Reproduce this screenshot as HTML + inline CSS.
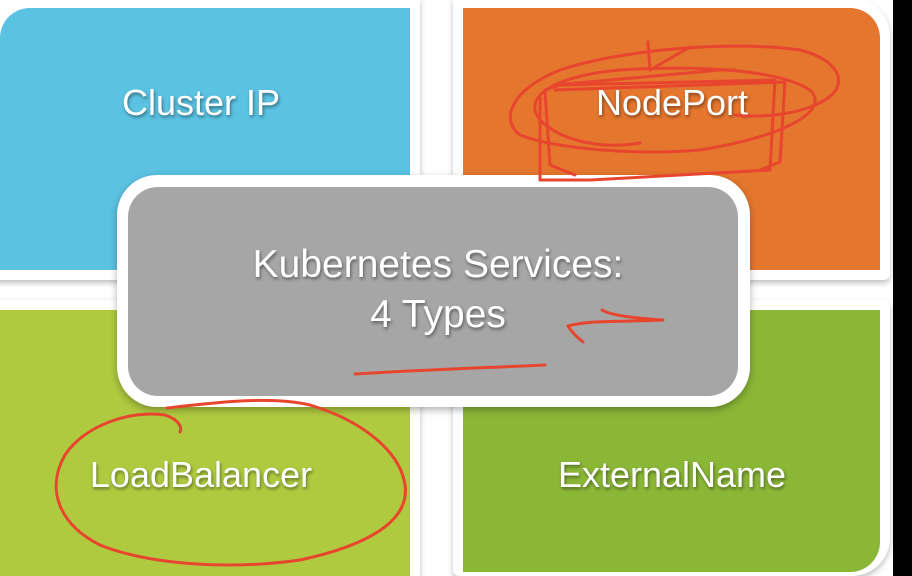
<!DOCTYPE html>
<html style="margin:0;width:912px;height:576px;overflow:hidden"><head><meta charset="utf-8"><style>
body{margin:0;width:912px;height:576px;overflow:hidden;background:#fff;position:relative;font-family:"Liberation Sans",sans-serif}
.t{position:absolute;box-sizing:border-box;box-shadow:0 3px 6px rgba(0,0,0,.25)}
.lbl{position:absolute;color:#fff;font-size:36px;text-shadow:1px 2px 3px rgba(0,0,0,.45);white-space:nowrap;transform:translate(-50%,-50%)}
.c{font-size:39px}
</style></head><body>
<div class="t" style="left:-10px;top:-2px;width:430px;height:282px;background:#fff;border-radius:0 0 4px 0"></div>
<div style="position:absolute;left:0;top:8px;width:410px;height:262px;background:#5bc2e2;border-radius:30px 0 0 0"></div>
<div class="t" style="left:453px;top:-2px;width:437px;height:282px;background:#fff;border-radius:0 38px 6px 6px"></div>
<div style="position:absolute;left:463px;top:8px;width:417px;height:262px;background:#e5762e;border-radius:0 30px 0 0"></div>
<div class="t" style="left:-10px;top:300px;width:430px;height:276px;background:#fff"></div>
<div style="position:absolute;left:0;top:310px;width:410px;height:266px;background:#b0ca40"></div>
<div class="t" style="left:453px;top:300px;width:437px;height:276px;background:#fff;border-radius:6px 6px 38px 6px"></div>
<div style="position:absolute;left:463px;top:310px;width:417px;height:262px;background:#8bb737;border-radius:0 0 30px 0"></div>
<div style="position:absolute;left:893px;top:0;width:19px;height:576px;background:#000"></div>
<div class="t" style="left:117px;top:175px;width:633px;height:232px;background:#fff;border-radius:40px;box-shadow:0 3px 8px rgba(0,0,0,.3)"></div>
<div style="position:absolute;left:128px;top:187px;width:610px;height:209px;background:#a6a6a6;border-radius:30px"></div>
<div class="lbl" style="left:201px;top:103px">Cluster IP</div>
<div class="lbl" style="left:672px;top:103px">NodePort</div>
<div class="lbl" style="left:201px;top:475px">LoadBalancer</div>
<div class="lbl" style="left:672px;top:475px">ExternalName</div>
<div class="lbl c" style="left:438px;top:265px">Kubernetes Services:</div>
<div class="lbl c" style="left:438px;top:315px">4 Types</div>
<svg width="912" height="576" style="position:absolute;left:0;top:0" fill="none" stroke="#e8452f" stroke-width="3" stroke-linecap="round" stroke-linejoin="round">
<path d="M640 143 C600 150 560 140 540 120 C520 95 560 75 620 70 C700 65 780 70 810 90 C830 110 790 135 700 150 C640 155 560 150 520 135 C500 120 510 90 560 70 C620 50 730 40 800 50 C840 60 850 85 825 100 C800 115 760 118 735 115"/>
<path d="M540 98 L540 180 L590 180 L770 170 L775 80 L560 85 L545 90 M545 92 L550 165 L575 175 M555 85 L720 70 L735 70 M555 90 L785 82 L780 162 L760 170"/>
<path d="M648 42 L650 70 L690 47"/>
<path d="M167 408 C220 402 270 396 310 405 C360 420 400 450 405 485 C410 520 370 545 300 560 C230 570 150 565 100 545 C60 525 45 490 65 455 C85 425 130 410 165 415 C180 420 182 428 180 432"/>
<path d="M355 374 C420 370 480 368 545 365"/>
<path d="M663 320 C630 318 610 315 602 310 M663 320 C620 322 590 320 568 326 C572 333 578 338 583 342"/>
</svg>
</body></html>
